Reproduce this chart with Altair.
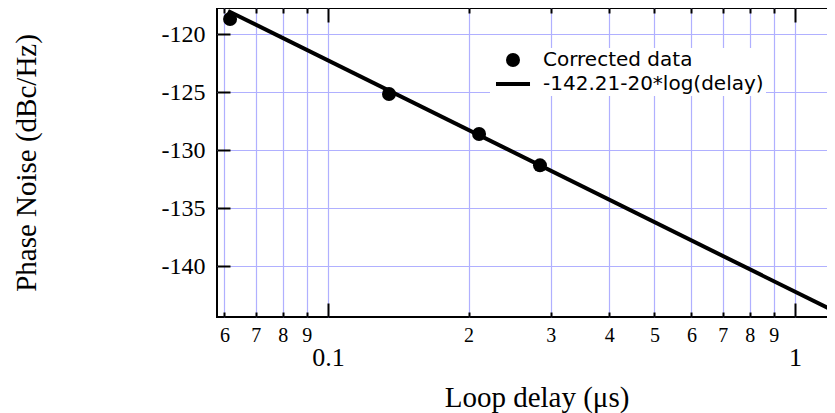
import altair as alt
import pandas as pd

# ---- data ----
delay_us = [0.0617, 0.1351, 0.2106, 0.2844, 1.230]
phase_noise = [-118.68, -125.15, -128.61, -131.31, -143.37]
fit_delay_us = [0.0611, 1.25]
fit_phase_noise = [-117.99, -144.15]
series_names = ["Corrected data", "-142.21-20*log(delay)"]
x_minor_ticks = [0.06, 0.07, 0.08, 0.09, 0.2, 0.3, 0.4, 0.5, 0.6, 0.7, 0.8, 0.9]
x_minor_labels = ["6", "7", "8", "9", "2", "3", "4", "5", "6", "7", "8", "9"]
x_major_ticks = [0.1, 1]
y_ticks = [-120, -125, -130, -135, -140]
x_domain = [0.05785, 1.2546]
y_domain = [-144.40, -117.73]
x_title = "Loop delay (μs)"
y_title = "Phase Noise (dBc/Hz)"

pts = pd.DataFrame({"delay": delay_us, "noise": phase_noise, "series": series_names[0]})
fit = pd.DataFrame({"delay": fit_delay_us, "noise": fit_phase_noise})

SERIF = "Liberation Serif"
SANS = "DejaVu Sans"
GRID = "#b0b0ff"
LINE_PATH = "M-2.43,-0.29H2.43V0.29H-2.43Z"

xs = alt.Scale(type="log", domain=x_domain, nice=False)
ys = alt.Scale(domain=y_domain, nice=False, zero=False)


def ax(**kw):
    base = dict(title=None, domain=False, grid=False, tickColor="black", tickWidth=2,
                tickCap="butt", labelColor="black", labelFont=SERIF, labelFlush=False,
                labelOverlap=False, labelBound=False)
    base.update(kw)
    return alt.Axis(**base)


minor_expr = "[" + ",".join(f"'{l}'" for l in x_minor_labels) + "][indexof([" + \
    ",".join(str(v) for v in x_minor_ticks) + "], datum.value)]"

grid_layer = alt.Chart(fit).mark_line(color="black", strokeWidth=4).encode(
    x=alt.X("delay:Q", scale=xs,
            axis=alt.Axis(orient="bottom", values=x_minor_ticks + x_major_ticks, grid=True,
                          gridColor=GRID, gridWidth=1.2, gridOpacity=1, ticks=False,
                          labels=False, domain=False, title=None)),
    y=alt.Y("noise:Q", scale=ys,
            axis=alt.Axis(orient="left", values=y_ticks, grid=True, gridColor=GRID,
                          gridWidth=1.2, gridOpacity=1, ticks=False, labels=False,
                          domain=False, title=None)),
)

pts_layer = alt.Chart(pts).mark_point(filled=True, color="black", size=196, opacity=1).encode(
    x=alt.X("delay:Q", scale=xs,
            axis=ax(orient="bottom", values=x_minor_ticks, labelExpr=minor_expr,
                    tickSize=5, offset=-5, labelPadding=8, labelFontSize=20)),
    y=alt.Y("noise:Q", scale=ys,
            axis=ax(orient="left", values=y_ticks, labelExpr="toString(datum.value)",
                    tickSize=13, offset=-13, labelPadding=12, labelFontSize=24,
                    title=y_title, titleFont=SERIF, titleFontSize=29,
                    titleFontWeight="normal", titleColor="black", titleX=-204,
                    titleY=154.5, titleBaseline="middle", titleAngle=270)),
    shape=alt.Shape("series:N",
                    scale=alt.Scale(domain=series_names, range=["circle", LINE_PATH]),
                    legend=alt.Legend(title=None, orient="none", legendX=273, legendY=40,
                                      fillColor="white", padding=2, labelFont=SANS,
                                      labelFontSize=20, labelColor="black", labelLimit=0,
                                      symbolSize=196, symbolFillColor="black",
                                      symbolStrokeWidth=0, symbolOffset=11,
                                      labelOffset=20, rowPadding=4)),
)

major_layer = alt.Chart(pts).mark_point(opacity=0).encode(
    x=alt.X("delay:Q", scale=xs,
            axis=ax(orient="bottom", values=x_major_ticks, format="~g", tickSize=14,
                    offset=-14, labelPadding=27, labelFontSize=26,
                    title=x_title, titleFont=SERIF, titleFontSize=29,
                    titleFontWeight="normal", titleColor="black", titleX=319.5,
                    titleY=80.6, titleBaseline="top")),
    y=alt.Y("noise:Q", scale=ys,
            axis=ax(orient="right", values=y_ticks, labels=False, tickSize=13, offset=-13)),
)

top_minor = alt.Chart(pts).mark_point(opacity=0).encode(
    x=alt.X("delay:Q", scale=xs,
            axis=ax(orient="top", values=x_minor_ticks, labels=False, tickSize=5, offset=-5)),
    y=alt.Y("noise:Q", scale=ys, axis=None),
)

top_major = alt.Chart(pts).mark_point(opacity=0).encode(
    x=alt.X("delay:Q", scale=xs,
            axis=ax(orient="top", values=x_major_ticks, labels=False, tickSize=14, offset=-14)),
    y=alt.Y("noise:Q", scale=ys, axis=None),
)

chart = alt.layer(grid_layer, pts_layer, major_layer, top_minor, top_major).resolve_axis(
    x="independent", y="independent"
).properties(
    width=624, height=309,
    autosize=alt.AutoSizeParams(type="none"),
    padding={"left": 209, "top": 0, "right": -14, "bottom": 96},
    background="white",
).configure_view(stroke="black", strokeWidth=2).configure_axis(
    labelFont=SERIF, labelColor="black", titleFont=SERIF, titleColor="black"
)

chart.save("out.html", embed_options={"renderer": "svg", "actions": False})
